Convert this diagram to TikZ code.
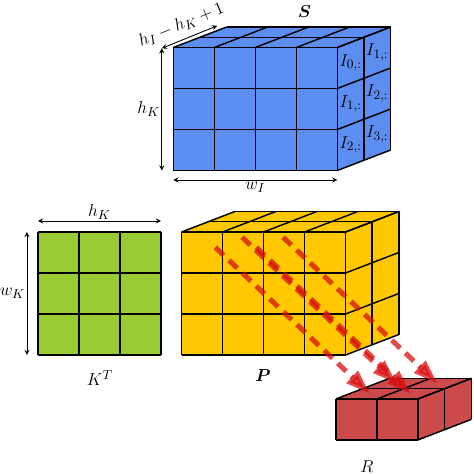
\documentclass[tikz,border=0pt]{standalone}
\usepackage{amsmath}
\usetikzlibrary{arrows, arrows.meta}
\definecolor{sblue}{HTML}{5B8EF0}
\definecolor{kgreen}{HTML}{99CC33}
\definecolor{pgold}{HTML}{FFC800}
\definecolor{rred}{HTML}{CC4A4A}
\definecolor{flowred}{HTML}{D81010}
\tikzstyle{cell} = [draw=black, line width=1pt, line join=round]
\tikzstyle{dim} = [semithick,<->,>=stealth]
\tikzstyle{flow} = [flowred, opacity=0.75, line width=3.5pt, dash pattern=on 8pt off 5pt, -{Triangle[length=17pt,width=11pt]}]
\tikzstyle{lbl} = [inner sep=1pt]

% block of columns x rows x layers, front face at (x,y)
\newcommand{\voxelblock}[6]{%
\begin{scope}[shift={(#1,#2)}]
  \fill[#6] (0,0) rectangle (#3,#4);
  \fill[#6] (0,#4) -- (#3,#4) -- ++({#5*0.65},{#5*0.25}) -- ++(-#3,0) -- cycle;
  \fill[#6] (#3,0) -- (#3,#4) -- ++({#5*0.65},{#5*0.25}) -- ++(0,-#4) -- cycle;
  \draw[cell] (0,0) grid (#3,#4);
  \foreach \i in {0,...,#3} \draw[cell] (\i,#4) -- ++({#5*0.65},{#5*0.25});
  \foreach \j in {0,...,#4} \draw[cell] (#3,\j) -- ++({#5*0.65},{#5*0.25});
  \foreach \k in {1,...,#5} \draw[cell] ({\k*0.65},{#4+\k*0.25}) -- ++(#3,0) -- ++(0,-#4);
\end{scope}}

\begin{document}
\begin{tikzpicture}[font=\fontsize{13}{15}\selectfont]
\useasboundingbox (-0.927,-2.902) rectangle (10.634,8.659);

% S
\voxelblock{3.3}{4.5}{4}{3}{2}{sblue}
\node (sname) at (6.5,8.37) {$\boldsymbol{S}$};
\node (i00) [lbl] at (7.625,7.125) {$I_{0,:}$};
\node (i01) [lbl] at (7.625,6.125) {$I_{1,:}$};
\node (i02) [lbl] at (7.625,5.125) {$I_{2,:}$};
\node (i10) [lbl] at (8.275,7.375) {$I_{1,:}$};
\node (i11) [lbl] at (8.275,6.375) {$I_{2,:}$};
\node (i12) [lbl] at (8.275,5.375) {$I_{3,:}$};

\coordinate (scorner) at (3.02,7.48);
\coordinate (sbottom) at (3.02,4.5);
\coordinate (sback) at (4.37,8.03);
\coordinate (wleft) at (3.3,4.27);
\coordinate (wright) at (7.3,4.27);
\draw [dim] (scorner) -- node[sloped, above=3.5pt, lbl, pos=0.45] (depth) {$h_I-h_K+1$} (sback);
\draw [dim] (scorner) -- node[left, lbl] (hk1) {$h_K$} (sbottom);
\draw [dim] (wleft) -- node[below, lbl] (wi) {$w_I$} (wright);

% K
\fill[kgreen] (0,0) rectangle (3,3);
\draw[cell] (0,0) grid (3,3);
\coordinate (kleft) at (0,3.27);
\coordinate (kright) at (3,3.27);
\coordinate (ktop) at (-0.27,3);
\coordinate (kbottom) at (-0.27,0);
\draw [dim] (kleft) -- node[above, lbl] (hk2) {$h_K$} (kright);
\draw [dim] (ktop) -- node[left, lbl] (wk) {$w_K$} (kbottom);
\node (kname) at (1.51,-0.56) {$K^T$};

% P
\voxelblock{3.5}{0}{4}{3}{2}{pgold}
\node (pname) at (5.49,-0.51) {$\boldsymbol{P}$};

% R
\voxelblock{7.27}{-2.07}{2}{1}{2}{rred}
\node (rname) at (8.02,-2.71) {$R$};

% P -> R
\coordinate (p1) at (4.325,2.625);
\coordinate (p2) at (4.975,2.875);
\coordinate (p3) at (5.325,2.625);
\coordinate (p4) at (5.975,2.875);
\coordinate (r1) at (8.095,-0.945);
\coordinate (r2) at (8.745,-0.695);
\coordinate (r3) at (9.095,-0.945);
\coordinate (r4) at (9.745,-0.695);
\draw [flow] (p2) -- (r2);
\draw [flow] (p4) -- (r4);
\draw [flow] (p1) -- (r1);
\draw [flow] (p3) -- (r3);

\end{tikzpicture}
\end{document}
